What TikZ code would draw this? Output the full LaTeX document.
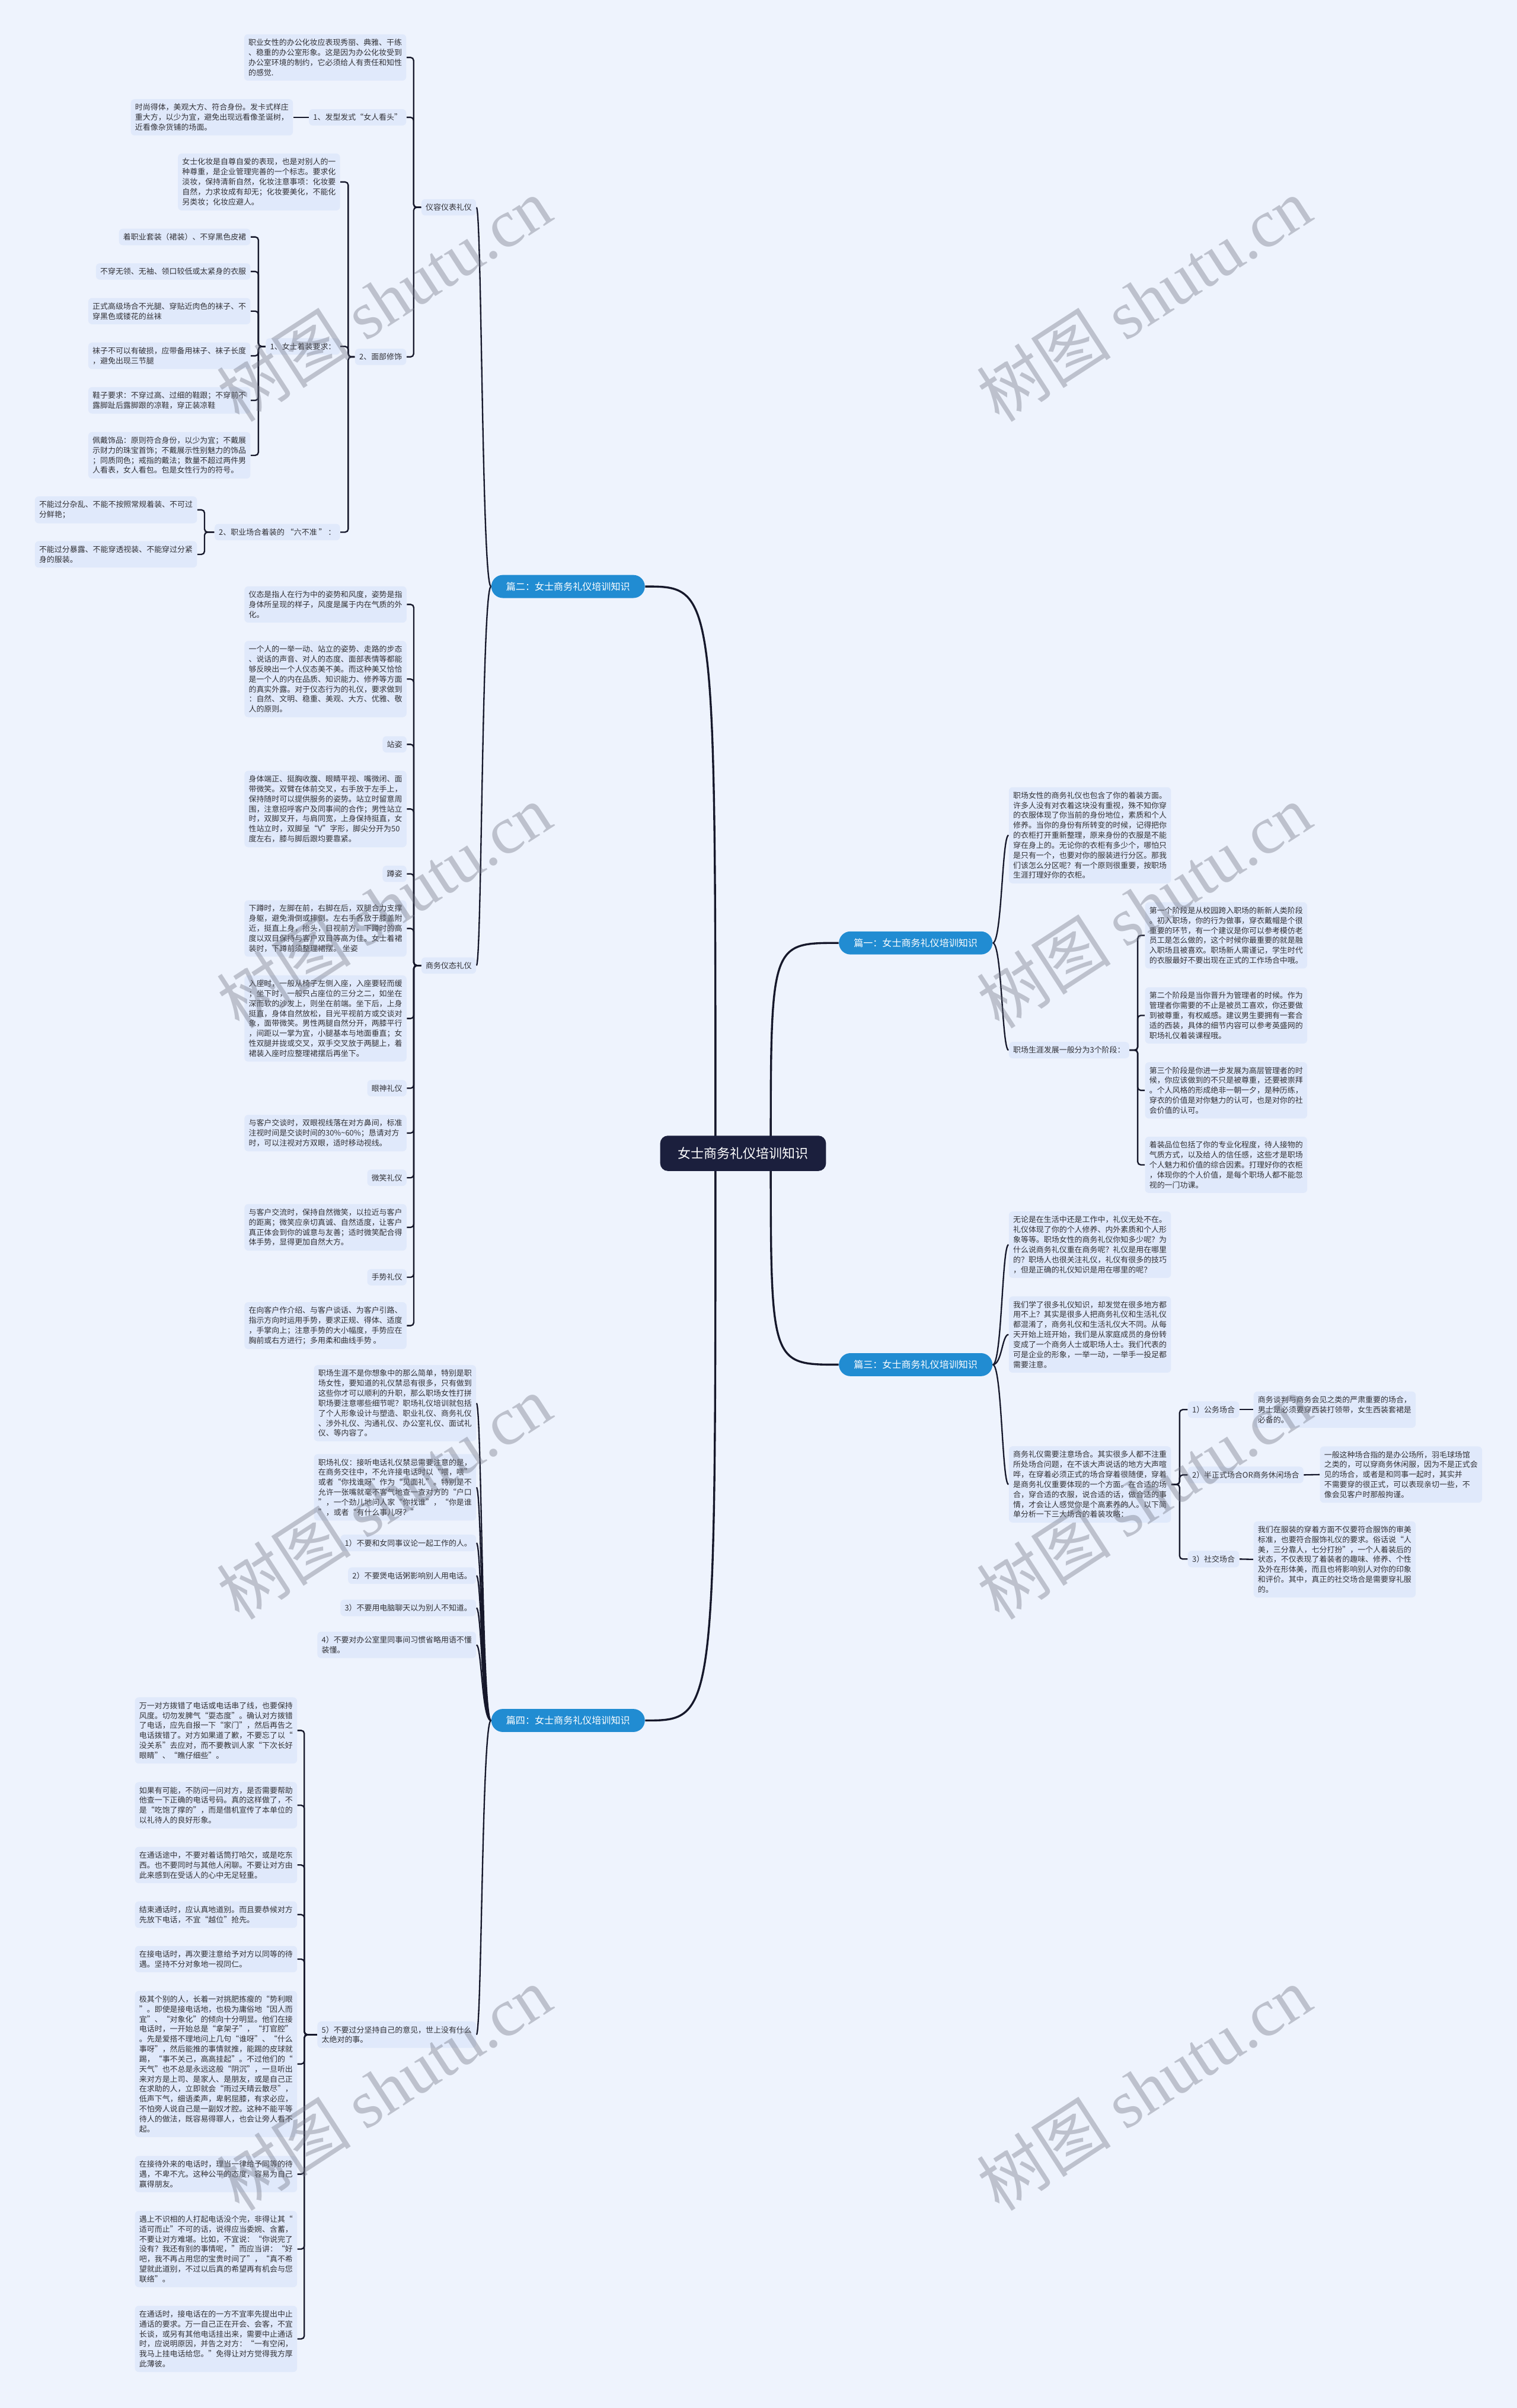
\documentclass[tikz,border=0pt]{standalone}
\usepackage{fontspec}
\setmainfont{Noto Sans CJK SC}
\newfontfamily\wmserif{Liberation Serif}
\usetikzlibrary{calc}
\definecolor{bgc}{RGB}{238,243,253}
\definecolor{boxc}{RGB}{224,233,251}
\definecolor{txtc}{RGB}{50,50,55}
\definecolor{linec}{RGB}{22,24,43}
\definecolor{pillc}{RGB}{33,140,210}
\definecolor{rootc}{RGB}{27,31,61}
\definecolor{wmc}{RGB}{110,114,128}
\pgfdeclarelayer{back}
\pgfdeclarelayer{lines}
\pgfdeclarelayer{fg}
\pgfsetlayers{back,lines,main,fg}
\tikzset{
 leaf/.style={fill=boxc, rounded corners=2.5pt, inner xsep=2.8pt, inner ysep=3pt, align=left, font=\fontsize{5}{6.5}\selectfont, text=txtc},
 leafL/.style={leaf, anchor=east},
 leafR/.style={leaf, anchor=west},
 pill/.style={fill=pillc, text=white, rounded corners=7.5pt, minimum width=100pt, minimum height=15pt, inner sep=0pt, font=\fontsize{6.2}{7}\selectfont},
 rootnode/.style={fill=rootc, text=white, rounded corners=5pt, minimum width=108pt, minimum height=23pt, inner sep=0pt, font=\fontsize{8.5}{10}\selectfont},
 br/.style={draw=linec, line width=0.9pt, rounded corners=2pt},
 cv/.style={draw=linec, line width=0.9pt},
 maincv/.style={draw=linec, line width=1.3pt},
 wm/.style={text=wmc, opacity=0.38, rotate=33, inner sep=0pt, font=\fontsize{44}{44}\selectfont}
}
\newcommand\brL[3]{\foreach \cc in {#3}{\draw[br] (#1.west) -- (#2,0 |- #1.west) |- (\cc.east);}}
\newcommand\brR[3]{\foreach \cc in {#3}{\draw[br] (#1.east) -- (#2,0 |- #1.east) |- (\cc.west);}}
\newcommand\cvL[2]{\draw[cv] (#1.west) .. controls ($(#1.west)+(-6,0)$) and ($(#1.west |- #2.east)+(-6,0)$) .. (#2.east);}
\newcommand\cvR[2]{\draw[cv] (#1.east) .. controls ($(#1.east)+(6,0)$) and ($(#1.east |- #2.west)+(6,0)$) .. (#2.west);}
\begin{document}
\begin{tikzpicture}[x=1pt,y=-1pt]
\useasboundingbox (0,0) rectangle (988,1568);
\begin{pgfonlayer}{back}
\fill[bgc] (0,0) rectangle (988,1568);
\end{pgfonlayer}

% root and chapters
\node[rootnode] (root) at (484,751) {女士商务礼仪培训知识};
\node[pill] (p1) at (596.4,614) {篇一：女士商务礼仪培训知识};
\node[pill] (p2) at (370,381.9) {篇二：女士商务礼仪培训知识};
\node[pill] (p3) at (596.4,888.6) {篇三：女士商务礼仪培训知识};
\node[pill] (p4) at (370,1120.3) {篇四：女士商务礼仪培训知识};

% ===== 篇二 =====
\node[leafL] (yr) at (310.3,135) {仪容仪表礼仪};
\node[leafL] (yt) at (310.3,628.7) {商务仪态礼仪};

\node[leafL] (a1) at (264.8,37.4) {职业女性的办公化妆应表现秀丽、典雅、干练\\、稳重的办公室形象。这是因为办公化妆受到\\办公室环境的制约，它必须给人有责任和知性\\的感觉.};
\node[leafL] (a2) at (264.8,76.4) {1、发型发式“女人看头”};
\node[leafL] (a2a) at (191,76.4) {时尚得体，美观大方、符合身份。发卡式样庄\\重大方，以少为宜，避免出现远看像圣诞树，\\近看像杂货铺的场面。};
\node[leafL] (a3) at (264.8,232.4) {2、面部修饰};

\node[leafL] (b1) at (221.7,118.5) {女士化妆是自尊自爱的表现，也是对别人的一\\种尊重，是企业管理完善的一个标志。要求化\\淡妆，保持清新自然，化妆注意事项：化妆要\\自然，力求妆成有却无；化妆要美化，不能化\\另类妆；化妆应避人。};
\node[leafL] (b2) at (221.7,225.6) {1、女士着装要求：};
\node[leafL] (b3) at (221.7,346.5) {2、职业场合着装的 “六不准 ” ：};

\node[leafL] (c1) at (163.3,154.3) {着职业套装（裙装）、不穿黑色皮裙};
\node[leafL] (c2) at (163.3,176.8) {不穿无领、无袖、领口较低或太紧身的衣服};
\node[leafL] (c3) at (163.3,202.6) {正式高级场合不光腿、穿贴近肉色的袜子、不\\穿黑色或镂花的丝袜};
\node[leafL] (c4) at (163.3,231.7) {袜子不可以有破损，应带备用袜子、袜子长度\\，避免出现三节腿};
\node[leafL] (c5) at (163.3,260.7) {鞋子要求：不穿过高、过细的鞋跟；不穿前不\\露脚趾后露脚跟的凉鞋，穿正装凉鞋};
\node[leafL] (c6) at (163.3,296.5) {佩戴饰品：原则符合身份，以少为宜；不戴展\\示财力的珠宝首饰；不戴展示性别魅力的饰品\\；同质同色；戒指的戴法；数量不超过两件男\\人看表，女人看包。包是女性行为的符号。};

\node[leafL] (d1) at (128.5,332) {不能过分杂乱、不能不按照常规着装、不可过\\分鲜艳；};
\node[leafL] (d2) at (128.5,361) {不能过分暴露、不能穿透视装、不能穿过分紧\\身的服装。};

\node[leafL] (e1) at (265,393.6) {仪态是指人在行为中的姿势和风度，姿势是指\\身体所呈现的样子，风度是属于内在气质的外\\化。};
\node[leafL] (e2) at (265,442.2) {一个人的一举一动、站立的姿势、走路的步态\\、说话的声音、对人的态度、面部表情等都能\\够反映出一个人仪态美不美。而这种美又恰恰\\是一个人的内在品质、知识能力、修养等方面\\的真实外露。对于仪态行为的礼仪，要求做到\\：自然、文明、稳重、美观、大方、优雅、敬\\人的原则。};
\node[leafL] (e3) at (265,484.7) {站姿};
\node[leafL] (e4) at (265,526.8) {身体端正、挺胸收腹、眼睛平视、嘴微闭、面\\带微笑。双臂在体前交叉，右手放于左手上，\\保持随时可以提供服务的姿势。站立时留意周\\围，注意招呼客户及同事间的合作；男性站立\\时，双脚叉开，与肩同宽，上身保持挺直，女\\性站立时，双脚呈“V”字形，脚尖分开为50\\度左右，膝与脚后跟均要靠紧。};
\node[leafL] (e5) at (265,569) {蹲姿};
\node[leafL] (e6) at (265,604.6) {下蹲时，左脚在前，右脚在后，双腿合力支撑\\身躯，避免滑倒或摔倒。左右手各放于膝盖附\\近，挺直上身，抬头，目视前方。下蹲时的高\\度以双目保持与客户双目等高为佳。女士着裙\\装时，下蹲前须整理裙摆。 坐姿};
\node[leafL] (e7) at (265,663.2) {入座时，一般从椅子左侧入座，入座要轻而缓\\；坐下时，一般只占座位的三分之二，如坐在\\深而软的沙发上，则坐在前端。坐下后，上身\\挺直，身体自然放松，目光平视前方或交谈对\\象，面带微笑。男性两腿自然分开，两膝平行\\，间距以一掌为宜，小腿基本与地面垂直；女\\性双腿并拢或交叉，双手交叉放于两腿上，着\\裙装入座时应整理裙摆后再坐下。};
\node[leafL] (e8) at (265,708.6) {眼神礼仪};
\node[leafL] (e9) at (265,737.8) {与客户交谈时，双眼视线落在对方鼻间，标准\\注视时间是交谈时间的30\%\textasciitilde60\%；恳请对方\\时，可以注视对方双眼，适时移动视线。};
\node[leafL] (e10) at (265,766.9) {微笑礼仪};
\node[leafL] (e11) at (265,799.2) {与客户交流时，保持自然微笑，以拉近与客户\\的距离；微笑应亲切真诚、自然适度，让客户\\真正体会到你的诚意与友善；适时微笑配合得\\体手势，显得更加自然大方。};
\node[leafL] (e12) at (265,831.7) {手势礼仪};
\node[leafL] (e13) at (265,863.2) {在向客户作介绍、与客户谈话、为客户引路、\\指示方向时运用手势，要求正规、得体、适度\\，手掌向上；注意手势的大小幅度，手势应在\\胸前或右方进行；多用柔和曲线手势 。};

% ===== 篇四 =====
\node[leafL] (f1) at (310.3,913.7) {职场生涯不是你想象中的那么简单，特别是职\\场女性，要知道的礼仪禁忌有很多，只有做到\\这些你才可以顺利的升职，那么职场女性打拼\\职场要注意哪些细节呢？职场礼仪培训就包括\\了个人形象设计与塑造、职业礼仪、商务礼仪\\、涉外礼仪、沟通礼仪、办公室礼仪、面试礼\\仪、等内容了。};
\node[leafL] (f2) at (310.3,968.5) {职场礼仪：接听电话礼仪禁忌需要注意的是，\\在商务交往中，不允许接电话时以“喂，喂”\\或者“你找谁呀”作为“见面礼”。特别是不\\允许一张嘴就毫不客气地查一查对方的“户口\\”，一个劲儿地问人家“你找谁”，“你是谁\\”，或者“有什么事儿呀？”};
\node[leafL] (f3) at (310.3,1004.7) {1）不要和女同事议论一起工作的人。};
\node[leafL] (f4) at (310.3,1026) {2）不要煲电话粥影响别人用电话。};
\node[leafL] (f5) at (310.3,1047) {3）不要用电脑聊天以为别人不知道。};
\node[leafL] (f6) at (310.3,1071.1) {4）不要对办公室里同事间习惯省略用语不懂\\装懂。};
\node[leafL] (f7) at (310.3,1324.9) {5）不要过分坚持自己的意见，世上没有什么\\太绝对的事。};

\node[leafL] (g1) at (193.7,1126.8) {万一对方拨错了电话或电话串了线，也要保持\\风度。切勿发脾气“耍态度”。确认对方拨错\\了电话，应先自报一下“家门”，然后再告之\\电话拨错了。对方如果道了歉，不要忘了以“\\没关系”去应对，而不要教训人家“下次长好\\眼睛”、“瞧仔细些”。};
\node[leafL] (g2) at (193.7,1175.5) {如果有可能，不防问一问对方，是否需要帮助\\他查一下正确的电话号码。真的这样做了，不\\是“吃饱了撑的”，而是借机宣传了本单位的\\以礼待人的良好形象。};
\node[leafL] (g3) at (193.7,1214.4) {在通话途中，不要对着话筒打哈欠，或是吃东\\西。也不要同时与其他人闲聊。不要让对方由\\此来感到在受话人的心中无足轻重。};
\node[leafL] (g4) at (193.7,1246.7) {结束通话时，应认真地道别。而且要恭候对方\\先放下电话，不宜“越位”抢先。};
\node[leafL] (g5) at (193.7,1275.7) {在接电话时，再次要注意给予对方以同等的待\\遇。坚持不分对象地一视同仁。};
\node[leafL] (g6) at (193.7,1344) {极其个别的人，长着一对挑肥拣瘦的“势利眼\\”。即使是接电话地，也极为庸俗地“因人而\\宜”、“对象化”的倾向十分明显。他们在接\\电话时，一开始总是“拿架子”，“打官腔”\\。先是爱搭不理地问上几句“谁呀”、“什么\\事呀”，然后能推的事情就推，能踢的皮球就\\踢，“事不关己，高高挂起”。不过他们的“\\天气”也不总是永远这般“阴沉”，一旦听出\\来对方是上司、是家人、是朋友，或是自己正\\在求助的人，立即就会“雨过天晴云散尽”，\\低声下气，细语柔声，卑躬屈膝，有求必应，\\不怕旁人说自己是一副奴才腔。这种不能平等\\待人的做法，既容易得罪人，也会让旁人看不\\起。};
\node[leafL] (g7) at (193.7,1415.7) {在接待外来的电话时，理当一律给予同等的待\\遇，不卑不亢。这种公平的态度，容易为自己\\赢得朋友。};
\node[leafL] (g8) at (193.7,1464.5) {遇上不识相的人打起电话没个完，非得让其“\\适可而止”不可的话，说得应当委婉、含蓄，\\不要让对方难堪。比如，不宜说：“你说完了\\没有？我还有别的事情呢，”而应当讲：“好\\吧，我不再占用您的宝贵时间了”，“真不希\\望就此道别，不过以后真的希望再有机会与您\\联络”。};
\node[leafL] (g9) at (193.7,1523) {在通话时，接电话在的一方不宜率先提出中止\\通话的要求。万一自己正在开会、会客，不宜\\长谈，或另有其他电话挂出来，需要中止通话\\时，应说明原因，并告之对方：“一有空闲，\\我马上挂电话给您。”免得让对方觉得我方厚\\此薄彼。};

% ===== 篇一 =====
\node[leafR] (h1) at (656.9,543.9) {职场女性的商务礼仪也包含了你的着装方面。\\许多人没有对衣着这块没有重视，殊不知你穿\\的衣服体现了你当前的身份地位，素质和个人\\修养。当你的身份有所转变的时候，记得把你\\的衣柜打开重新整理，原来身份的衣服是不能\\穿在身上的。无论你的衣柜有多少个，哪怕只\\是只有一个，也要对你的服装进行分区。那我\\们该怎么分区呢？有一个原则很重要，按职场\\生涯打理好你的衣柜。};
\node[leafR] (h2) at (656.9,683.8) {职场生涯发展一般分为3个阶段：};
\node[leafR] (i1) at (745.6,609.1) {第一个阶段是从校园跨入职场的新新人类阶段\\。初入职场，你的行为做事，穿衣戴帽是个很\\重要的环节，有一个建议是你可以参考模仿老\\员工是怎么做的，这个时候你最重要的就是融\\入职场且被喜欢。职场新人需谨记，学生时代\\的衣服最好不要出现在正式的工作场合中哦。};
\node[leafR] (i2) at (745.6,661.2) {第二个阶段是当你晋升为管理者的时候。作为\\管理者你需要的不止是被员工喜欢，你还要做\\到被尊重，有权威感。建议男生要拥有一套合\\适的西装，具体的细节内容可以参考英盛网的\\职场礼仪着装课程哦。};
\node[leafR] (i3) at (745.6,710) {第三个阶段是你进一步发展为高层管理者的时\\候，你应该做到的不只是被尊重，还要被崇拜\\。个人风格的形成绝非一朝一夕，是种历练，\\穿衣的价值是对你魅力的认可，也是对你的社\\会价值的认可。};
\node[leafR] (i4) at (745.6,758.5) {着装品位包括了你的专业化程度，待人接物的\\气质方式，以及给人的信任感，这些才是职场\\个人魅力和价值的综合因素。打理好你的衣柜\\，体现你的个人价值，是每个职场人都不能忽\\视的一门功课。};

% ===== 篇三 =====
\node[leafR] (j1) at (656.9,810.5) {无论是在生活中还是工作中，礼仪无处不在。\\礼仪体现了你的个人修养、内外素质和个人形\\象等等。职场女性的商务礼仪你知多少呢？为\\什么说商务礼仪重在商务呢？礼仪是用在哪里\\的？职场人也很关注礼仪，礼仪有很多的技巧\\，但是正确的礼仪知识是用在哪里的呢？};
\node[leafR] (j2) at (656.9,869) {我们学了很多礼仪知识，却发觉在很多地方都\\用不上？其实是很多人把商务礼仪和生活礼仪\\都混淆了，商务礼仪和生活礼仪大不同。从每\\天开始上班开始，我们是从家庭成员的身份转\\变成了一个商务人士或职场人士。我们代表的\\可是企业的形象，一举一动，一举手一投足都\\需要注意。};
\node[leafR] (j3) at (656.9,966.6) {商务礼仪需要注意场合。其实很多人都不注重\\所处场合问题，在不该大声说话的地方大声喧\\哗，在穿着必须正式的场合穿着很随便，穿着\\是商务礼仪重要体现的一个方面。在合适的场\\合，穿合适的衣服，说合适的话，做合适的事\\情，才会让人感觉你是个高素养的人。以下简\\单分析一下三大场合的着装攻略：};
\node[leafR] (k1) at (773.5,917.9) {1）公务场合};
\node[leafR] (k2) at (773.5,960.4) {2）半正式场合OR商务休闲场合};
\node[leafR] (k3) at (773.5,1015.2) {3）社交场合};
\node[leafR] (m1) at (816.3,917.9) {商务谈判与商务会见之类的严肃重要的场合，\\男士是必须要穿西装打领带，女生西装套裙是\\必备的。};
\node[leafR] (m2) at (859.5,960.2) {一般这种场合指的是办公场所，羽毛球场馆\\之类的，可以穿商务休闲服，因为不是正式会\\见的场合，或者是和同事一起时，其实并\\不需要穿的很正式，可以表现亲切一些，不\\像会见客户时那般拘谨。};
\node[leafR] (m3) at (816.3,1015.4) {我们在服装的穿着方面不仅要符合服饰的审美\\标准，也要符合服饰礼仪的要求。俗话说“人\\美，三分靠人，七分打扮”，一个人着装后的\\状态，不仅表现了着装者的趣味、修养、个性\\及外在形体美，而且也将影响别人对你的印象\\和评价。其中，真正的社交场合是需要穿礼服\\的。};

% ===== connectors =====
\begin{pgfonlayer}{lines}
\draw[maincv] (466,751) .. controls (466,381.9) .. (p2.east);
\draw[maincv] (466,751) .. controls (466,1120.3) .. (p4.east);
\draw[maincv] (502,751) .. controls (502,614) .. (p1.west);
\draw[maincv] (502,751) .. controls (502,888.6) .. (p3.west);

\foreach \cc in {yr,yt}{\cvL{p2}{\cc}}
\brL{yr}{269.4}{a1,a2,a3}
\draw[br] (a2.west) -- (a2a.east);
\brL{a3}{226.8}{b1,b2,b3}
\brL{b2}{168.3}{c1,c2,c3,c4,c5,c6}
\brL{b3}{133.2}{d1,d2}
\brL{yt}{269.5}{e1,e2,e3,e4,e5,e6,e7,e8,e9,e10,e11,e12,e13}

\foreach \cc in {f1,f2,f3,f4,f5,f6,f7}{\cvL{p4}{\cc}}
\brL{f7}{198.2}{g1,g2,g3,g4,g5,g6,g7,g8,g9}

\foreach \cc in {h1,h2}{\cvR{p1}{\cc}}
\brR{h2}{741}{i1,i2,i3,i4}

\foreach \cc in {j1,j2,j3}{\cvR{p3}{\cc}}
\brR{j3}{768.3}{k1,k2,k3}
\draw[br] (k1.east) -- (m1.west);
\draw[br] (k2.east) -- (m2.west);
\draw[br] (k3.east) -- (m3.west);
\end{pgfonlayer}

% ===== watermarks =====
\begin{pgfonlayer}{fg}
\foreach \wx/\wy in {250/195, 745/195, 250/590, 745/590, 250/975, 745/975, 250/1360, 745/1360}{
  \node[wm] at (\wx,\wy) {树图 {\wmserif shutu.cn}};
}
\end{pgfonlayer}
\end{tikzpicture}
\end{document}
